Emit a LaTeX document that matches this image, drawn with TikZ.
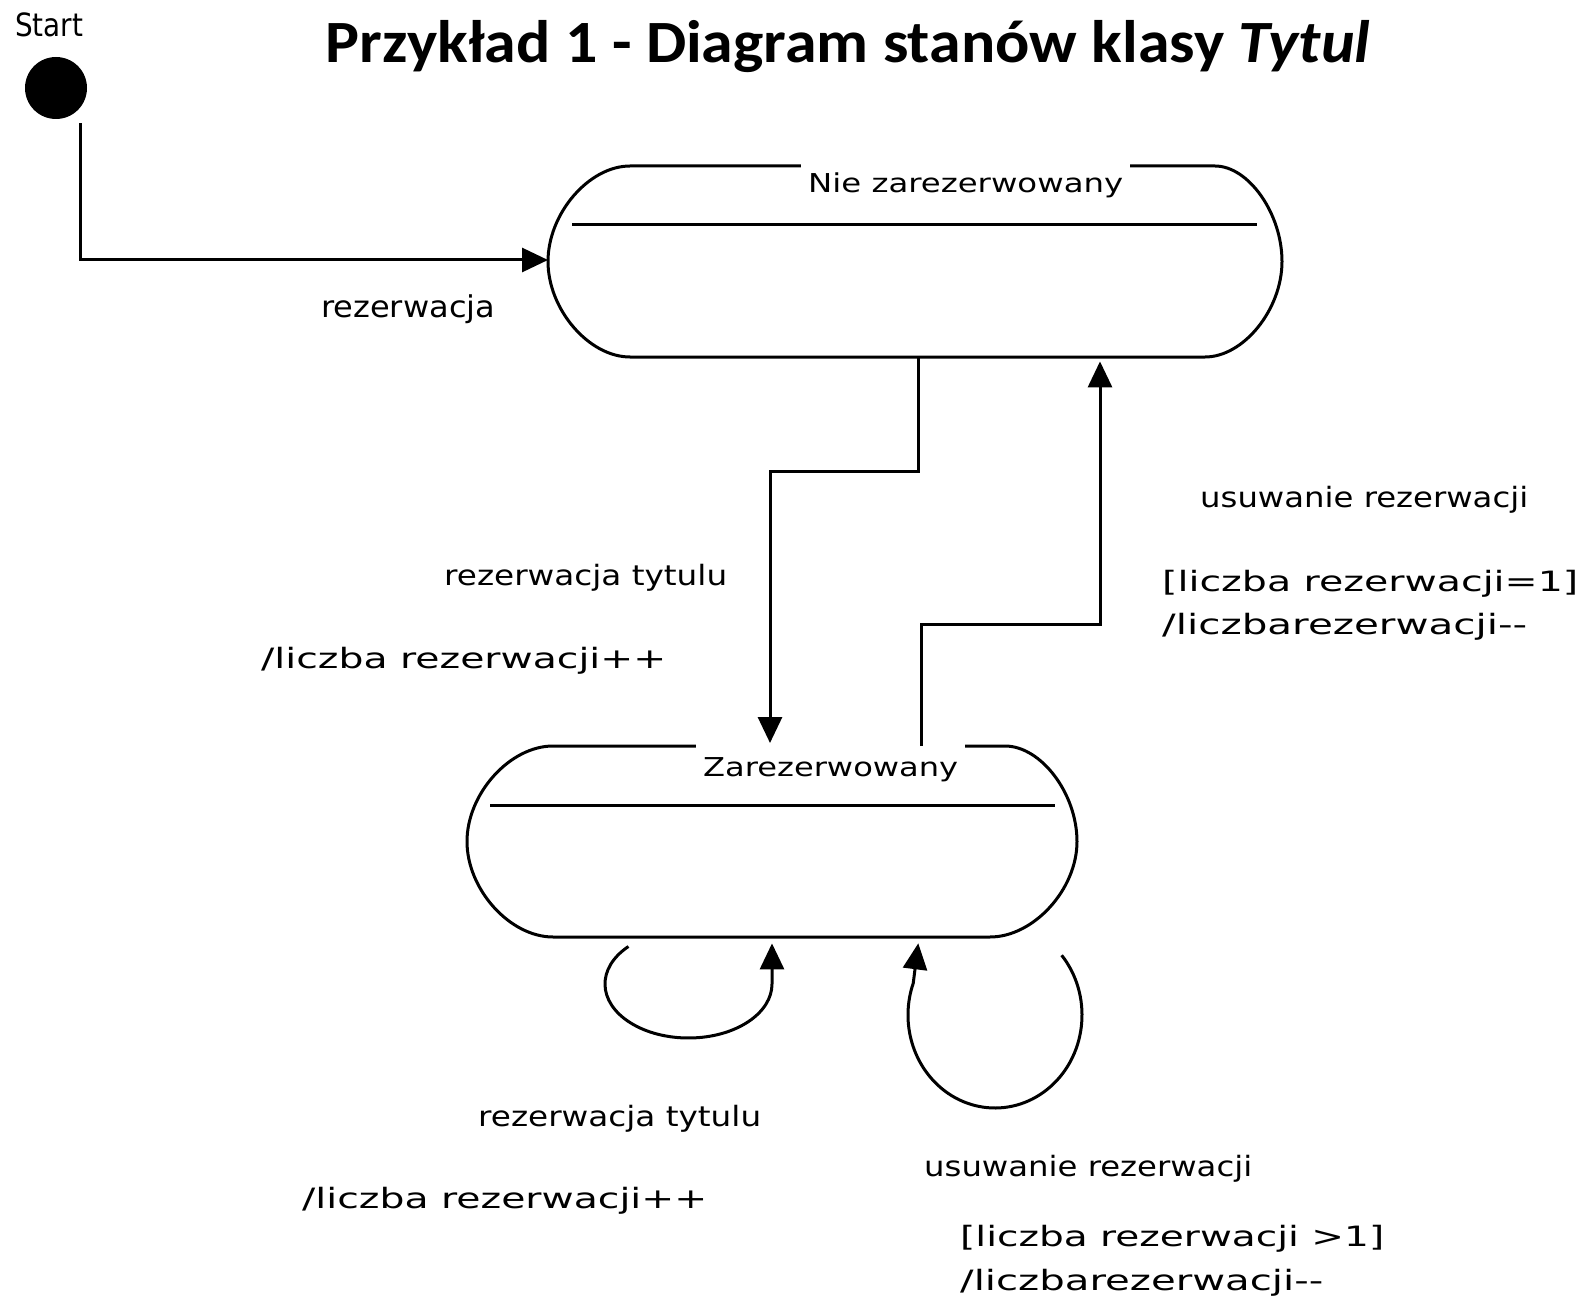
\documentclass[tikz,border=0pt]{standalone}
\usepackage{fontspec}
\newfontfamily\pixfont{DejaVu Sans}
\newfontfamily\titlefont{Carlito}
\usetikzlibrary{arrows.meta,calc}
\newcommand\fitw[3]{\resizebox{#2}{\height}{\pixfont\fontsize{#1}{#1}\selectfont #3}}
\newcommand\dm{\mbox{-}\mbox{-}}
\begin{document}
\begin{tikzpicture}[x=1pt,y=1pt,
  conn/.style={line width=3pt},
  arr/.style={line width=3pt,-{Triangle[length=26pt,width=24pt]}},
  lbl/.style={anchor=base west,inner sep=0pt},
  sname/.style={anchor=base west,fill=white,inner xsep=7pt,inner ysep=14pt},
  sbox/.style={inner sep=0pt,anchor=north west,minimum height=191pt}]
\useasboundingbox[fill=white] (0,0) rectangle (1583,-1300);

% title
\node[anchor=base,inner sep=0pt] (title) at (848,-63)
  {\resizebox{1045pt}{\height}{\titlefont\bfseries\fontsize{60}{60}\selectfont Przykład 1 - Diagram stanów klasy \textit{Tytul}}};

% start
\node[lbl] (startlbl) at (15,-37) {\fitw{32}{68pt}{Start}};
\node[circle,fill=black,minimum size=62pt,inner sep=0pt] (start) at (56,-88) {};

% state boxes (for anchors)
\node[sbox,minimum width=734pt] (s1) at (548,-166) {};
\node[sbox,minimum width=610pt] (s2) at (467,-746) {};

% state outlines
\draw[conn] (630,-166) -- (1215,-166)
  .. controls (1248.5,-166) and (1282,-213.5) .. (1282,-261.5)
  .. controls (1282,-309.5) and (1243.5,-357) .. (1205,-357)
  -- (630,-357)
  .. controls (589,-357) and (548,-309.5) .. (548,-261.5)
  .. controls (548,-213.5) and (589,-166) .. (630,-166) -- cycle;
\draw[conn] (572,-225) -- (1257,-225);

\draw[conn] (553,-746) -- (1005,-746)
  .. controls (1041,-746) and (1077,-793.5) .. (1077,-841.5)
  .. controls (1077,-889.5) and (1033.5,-937) .. (990,-937)
  -- (553,-937)
  .. controls (510,-937) and (467,-889.5) .. (467,-841.5)
  .. controls (467,-793.5) and (510,-746) .. (553,-746) -- cycle;
\draw[conn] (490,-805) -- (1055,-805);

% state names
\node[sname] (n1) at (801,-193) {\fitw{26}{315pt}{Nie zarezerwowany}};
\node[sname] (n2) at (696,-776) {\fitw{26}{255pt}{Zarezerwowany}};

% connectors
\draw[arr,shorten <=4pt] (start.south -| 80,0) |- (s1.west |- 0,-260);
\draw[arr,shorten >=3pt] (s1.south -| 918,0) -- (918,-471) -- (770,-471) -- (s2.north -| 770,0);
\draw[arr,shorten >=4pt] (s2.north -| 921,0) -- (921,-624) -- (1100,-624) -- (s1.south -| 1100,0);
\draw[arr,shorten >=6pt] ($(688.5,-984)+(136:83.5pt and 54pt)$)
  arc[start angle=136,end angle=360,x radius=83.5pt,y radius=54pt] -- (s2.south -| 772,0);
\draw[arr,shorten >=6pt] ($(995,-1015)+(40:87pt and 93pt)$)
  arc[start angle=40,end angle=-200,x radius=87pt,y radius=93pt] -- (s2.south -| 919,0);

% labels
\node[lbl] (l1) at (321,-317) {\fitw{30}{174pt}{rezerwacja}};
\node[lbl] (l2) at (444,-585) {\fitw{28}{283pt}{rezerwacja tytulu}};
\node[lbl] (l3) at (261,-668) {\fitw{28}{405pt}{/liczba rezerwacji++}};
\node[lbl] (l4) at (1200,-507) {\fitw{28}{328pt}{usuwanie rezerwacji}};
\node[lbl] (l5) at (1162,-591) {\fitw{28}{416pt}{[liczba rezerwacji=1]}};
\node[lbl] (l6) at (1162,-634) {\fitw{28}{365pt}{/liczbarezerwacji\dm}};
\node[lbl] (l7) at (478,-1126) {\fitw{28}{283pt}{rezerwacja tytulu}};
\node[lbl] (l8) at (302,-1208) {\fitw{28}{405pt}{/liczba rezerwacji++}};
\node[lbl] (l9) at (924,-1176) {\fitw{28}{328pt}{usuwanie rezerwacji}};
\node[lbl] (l10) at (960,-1246) {\fitw{28}{424pt}{[liczba rezerwacji >1]}};
\node[lbl] (l11) at (960,-1290) {\fitw{28}{363pt}{/liczbarezerwacji\dm}};
\end{tikzpicture}
\end{document}
